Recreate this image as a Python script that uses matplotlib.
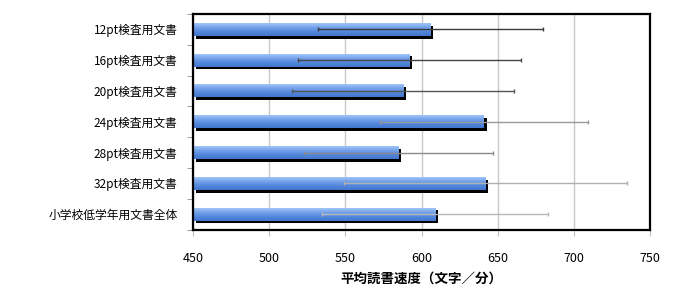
import matplotlib
matplotlib.use("Agg")
import matplotlib.pyplot as plt
import matplotlib.patheffects as pe
import numpy as np
from matplotlib.colors import LinearSegmentedColormap

plt.rcParams['font.family'] = ['Noto Sans CJK JP', 'DejaVu Sans']

categories = ["12pt検査用文書", "16pt検査用文書", "20pt検査用文書", "24pt検査用文書",
              "28pt検査用文書", "32pt検査用文書", "小学校低学年用文書全体"]
means = [606, 592, 588, 641, 585, 642, 609]
sds = [74, 73, 73, 68, 62, 93, 74]
err_colors = ["#3a3a3a", "#444444", "#555555", "#999999", "#8a8a8a", "#b0b0b0", "#b8b8b8"]
xticks = [450, 500, 550, 600, 650, 700, 750]
xlabel = "平均読書速度（文字／分）"

fig = plt.figure(figsize=(6.75, 3.06), dpi=100)
ax = fig.add_axes([193/675, 1 - 229.5/306, (650 - 193)/675, (229.5 - 14)/306])

y = np.arange(len(categories))
h = 0.42
bars = ax.barh(y, [m - 450 for m in means], left=450, height=h, color="#5b8fe0",
               edgecolor="none", zorder=3,
               path_effects=[pe.SimplePatchShadow(offset=(2, -2), shadow_rgbFace="black", alpha=1.0),
                             pe.Normal()])

# gradient fill clipped to each bar (light at top, darker at bottom)
cmap = LinearSegmentedColormap.from_list("g", ["#a2c4f6", "#74a2ea", "#5287db", "#4276ce"])
for b in bars:
    x0, y0 = b.get_x(), b.get_y()
    w, hh = b.get_width(), b.get_height()
    # y axis is inverted: y0 is the visual top edge
    im = ax.imshow(np.linspace(0, 1, 32).reshape(-1, 1), cmap=cmap, aspect="auto",
                   extent=[x0, x0 + w, y0 + hh, y0], origin="upper",
                   zorder=3.5, interpolation="bilinear")
    im.set_clip_path(b)

for i in range(len(categories)):
    ax.errorbar(means[i], y[i], xerr=sds[i], fmt="none", ecolor=err_colors[i],
                elinewidth=1.0, capsize=1.6, capthick=1.0, zorder=4)

ax.set_xlim(450, 750)
ax.set_ylim(len(categories) - 0.5, -0.5)
ax.set_xticks(xticks)
ax.set_xticklabels([str(t) for t in xticks], fontsize=9)
ax.set_yticks(y)
ax.set_yticklabels(categories, fontsize=8.5)
ax.set_yticks(np.arange(-0.5, len(categories), 1), minor=True)
ax.tick_params(axis="y", which="major", length=0, pad=11)
ax.tick_params(axis="y", which="minor", length=4, color="#888888", direction="out")
ax.tick_params(axis="x", which="major", length=4, color="#c0c0c0", pad=12)

ax.grid(axis="x", color="#c8c8c8", linewidth=1.0, zorder=0)
ax.set_axisbelow(True)
for s in ax.spines.values():
    s.set_linewidth(1.6)
    s.set_color("black")
    s.set_zorder(5)

ax.set_xlabel(xlabel, fontsize=9.7, fontweight="bold", labelpad=5)

fig.savefig("out.png", dpi=100)
